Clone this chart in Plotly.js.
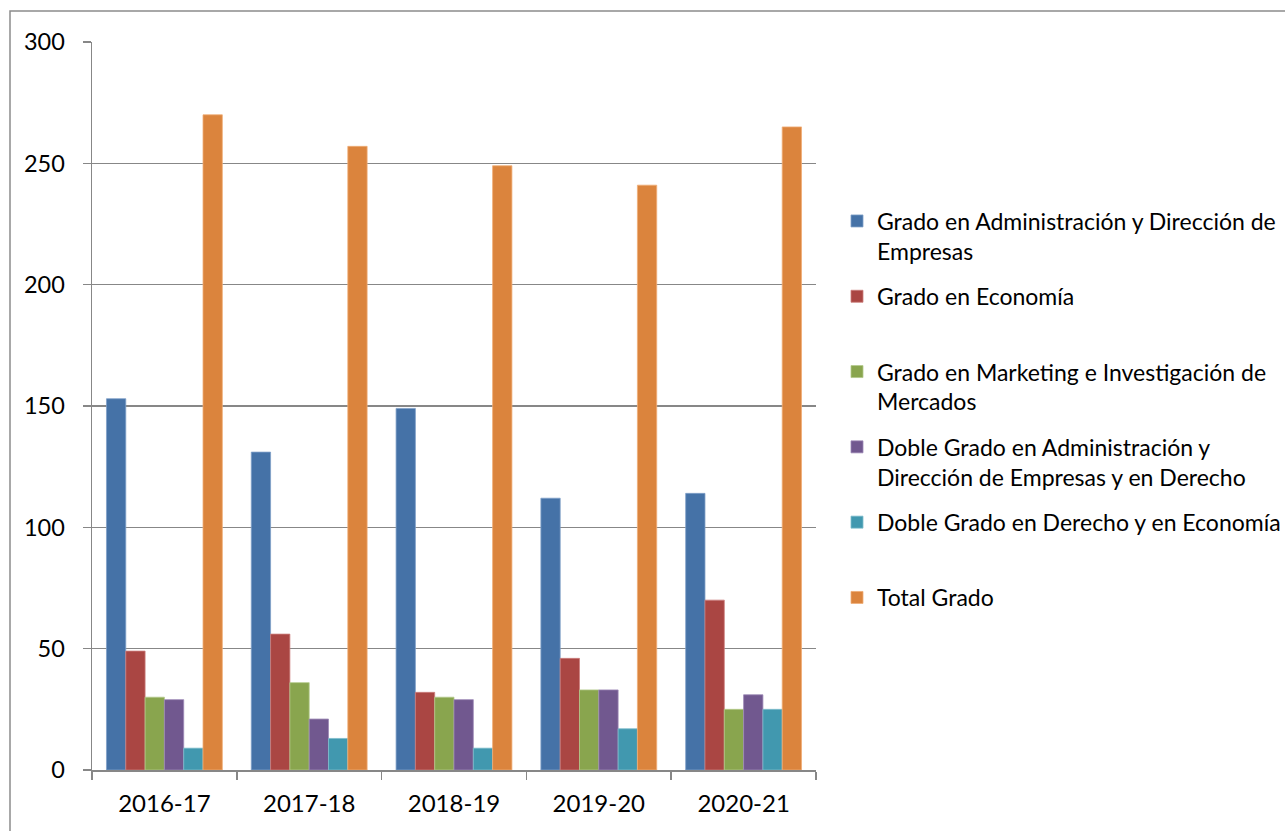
<!DOCTYPE html>
<html>
<head>
<meta charset="utf-8">
<script src="https://cdn.plot.ly/plotly-3.0.1.min.js"></script>
<style>html,body{margin:0;padding:0;background:#fff;}#chart{width:1285px;height:831px;}</style>
</head>
<body>
<div id="chart"></div>
<script>
const categories = ["2016-17", "2017-18", "2018-19", "2019-20", "2020-21"];
const seriesNames = [
  "Grado en Administración y Dirección de<br>Empresas",
  "Grado en Economía<br> ",
  "Grado en Marketing e Investigación de<br>Mercados",
  "Doble Grado en Administración y<br>Dirección de Empresas y en Derecho",
  "Doble Grado en Derecho y en Economía<br> ",
  "Total Grado<br> "
];
const gradoADE = [153, 131, 149, 112, 114];
const gradoEconomia = [49, 56, 32, 46, 70];
const gradoMarketing = [30, 36, 30, 33, 25];
const dobleADEDerecho = [29, 21, 29, 33, 31];
const dobleDerechoEconomia = [9, 13, 9, 17, 25];
const totalGrado = [270, 257, 249, 241, 265];
const colors = ["#4572A7", "#AA4643", "#89A54E", "#71588F", "#4198AF", "#DB843D"];
const lineColors = ["#7f9fc8", "#cc7e7c", "#b2c98a", "#9d89b6", "#7dbccc", "#f0ad76"];

const values = [gradoADE, gradoEconomia, gradoMarketing, dobleADEDerecho, dobleDerechoEconomia, totalGrado];
const traces = values.map((v, i) => ({
  type: "bar",
  name: seriesNames[i],
  x: categories,
  y: v,
  legendgroup: "g" + i,
  marker: {color: colors[i], line: {color: lineColors[i], width: 0.8}},
  hoverinfo: "x+y+name"
}));

const gridColor = "#878787";
const fontFam = "Lato, Carlito, 'Open Sans', sans-serif";
const layout = {
  width: 1285,
  height: 831,
  margin: {l: 92, r: 469, t: 42, b: 61},
  paper_bgcolor: "#ffffff",
  plot_bgcolor: "#ffffff",
  font: {family: fontFam, size: 23, color: "#000000"},
  barmode: "group",
  bargap: 0.2,
  bargroupgap: 0,
  showlegend: true,
  legend: {
    xref: "container", yref: "container",
    x: 837 / 1285, xanchor: "left",
    y: (831 - 199.5) / 831, yanchor: "top",
    traceorder: "grouped",
    tracegroupgap: 12.5,
    valign: "top",
    font: {family: fontFam, size: 23, color: "#000000"},
    bgcolor: "rgba(0,0,0,0)",
    borderwidth: 0
  },
  xaxis: {
    type: "category",
    tickson: "boundaries",
    ticks: "outside",
    ticklen: 8,
    tickwidth: 1.5,
    tickcolor: gridColor,
    showline: true,
    linecolor: gridColor,
    linewidth: 1.5,
    showgrid: false,
    ticklabelstandoff: 12,
    tickfont: {family: fontFam, size: 24, color: "#000000"}
  },
  yaxis: {
    range: [0, 300],
    tickvals: [0, 50, 100, 150, 200, 250, 300],
    ticktext: ["0", "50", "100", "150", "200", "250", "300"],
    ticks: "outside",
    ticklen: 8,
    tickwidth: 1.5,
    tickcolor: gridColor,
    showline: true,
    linecolor: gridColor,
    linewidth: 1.5,
    showgrid: true,
    gridcolor: gridColor,
    gridwidth: 1.5,
    zeroline: false,
    ticklabelstandoff: 13,
    tickfont: {family: fontFam, size: 23.5, color: "#000000"}
  },
  shapes: [{
    type: "rect", xref: "paper", yref: "paper",
    x0: (10 - 92) / 724, x1: (1300 - 92) / 724,
    y0: (770 - 845) / 728, y1: (770 - 11) / 728,
    line: {color: "#8c8c8c", width: 1.5},
    fillcolor: "rgba(0,0,0,0)",
    layer: "below"
  }]
};

Plotly.newPlot("chart", traces, layout, {staticPlot: true, displayModeBar: false});
</script>
</body>
</html>
